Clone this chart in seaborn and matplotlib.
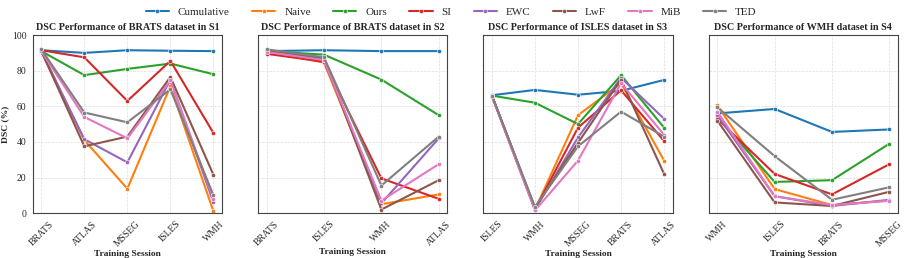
import numpy as np
import pandas as pd
import seaborn as sns
import matplotlib.pyplot as plt

methods = ["Cumulative", "Naive", "Ours", "SI", "EWC", "LwF", "MiB", "TED"]

# S1: BRATS dataset
s1_sessions = ["BRATS", "ATLAS", "MSSEG", "ISLES", "WMH"]
s1_vals = {
    "Cumulative": [91.5, 90.0, 91.5, 91.2, 91.0],
    "Naive": [91.0, 41.0, 13.7, 71.3, 1.0],
    "Ours": [91.0, 77.5, 81.0, 84.0, 78.0],
    "SI": [91.5, 87.5, 63.0, 85.5, 45.0],
    "EWC": [91.0, 41.5, 28.5, 75.0, 6.0],
    "LwF": [91.0, 37.5, 43.0, 76.5, 21.5],
    "MiB": [91.0, 54.0, 42.0, 74.5, 8.0],
    "TED": [92.0, 56.5, 51.0, 69.5, 10.0],
}

# S2: BRATS dataset
s2_sessions = ["BRATS", "ISLES", "WMH", "ATLAS"]
s2_vals = {
    "Cumulative": [91.0, 91.5, 91.0, 91.0],
    "Naive": [91.0, 84.5, 5.0, 10.5],
    "Ours": [91.0, 89.0, 75.0, 55.0],
    "SI": [89.5, 85.0, 19.5, 8.0],
    "EWC": [91.0, 86.0, 5.5, 42.0],
    "LwF": [91.0, 87.0, 2.0, 18.5],
    "MiB": [90.5, 86.0, 7.0, 27.5],
    "TED": [92.0, 87.5, 15.5, 43.0],
}

# S3: ISLES dataset
s3_sessions = ["ISLES", "WMH", "MSSEG", "BRATS", "ATLAS"]
s3_vals = {
    "Cumulative": [66.2, 69.2, 66.5, 68.7, 74.8],
    "Naive": [66.0, 2.0, 55.0, 73.0, 29.5],
    "Ours": [66.0, 62.0, 50.0, 77.5, 48.0],
    "SI": [66.0, 2.0, 48.0, 69.0, 40.5],
    "EWC": [66.0, 2.0, 42.5, 76.0, 53.0],
    "LwF": [66.0, 3.0, 39.5, 75.0, 22.0],
    "MiB": [65.5, 1.5, 29.5, 73.0, 44.0],
    "TED": [66.0, 3.5, 37.5, 57.0, 43.0],
}

# S4: WMH dataset
s4_sessions = ["WMH", "ISLES", "BRATS", "MSSEG"]
s4_vals = {
    "Cumulative": [56.0, 58.5, 45.6, 47.0],
    "Naive": [60.5, 13.5, 4.5, 7.0],
    "Ours": [54.0, 17.5, 18.5, 39.0],
    "SI": [53.0, 22.0, 10.5, 27.5],
    "EWC": [55.0, 9.5, 4.0, 7.5],
    "LwF": [52.0, 6.0, 4.0, 12.0],
    "MiB": [57.0, 9.5, 4.5, 7.0],
    "TED": [59.5, 32.0, 7.5, 14.5],
}

titles = [
    "DSC Performance of BRATS dataset in S1",
    "DSC Performance of BRATS dataset in S2",
    "DSC Performance of ISLES dataset in S3",
    "DSC Performance of WMH dataset in S4",
]
panels = [(s1_sessions, s1_vals), (s2_sessions, s2_vals),
          (s3_sessions, s3_vals), (s4_sessions, s4_vals)]

sns.set_style("whitegrid")
plt.rcParams["font.family"] = ["Liberation Serif", "DejaVu Serif"]

palette = dict(zip(methods, sns.color_palette("tab10", 8)))

fig, axes = plt.subplots(1, 4, figsize=(9.08, 2.58), dpi=100, sharey=True)
fig.subplots_adjust(left=0.036, right=0.989, top=0.864, bottom=0.174, wspace=0.19)

for ax, (sessions, vals), title in zip(axes, panels, titles):
    rows = []
    for m in methods:
        for i, s in enumerate(sessions):
            rows.append({"session": i, "method": m, "DSC": vals[m][i]})
    df = pd.DataFrame(rows)
    sns.lineplot(data=df, x="session", y="DSC", hue="method", hue_order=methods,
                 palette=palette, marker="o", markersize=3, markeredgecolor="white",
                 markeredgewidth=0.4, linewidth=1.5, ax=ax, legend=(ax is axes[0]))
    n = len(sessions) - 1
    ax.set_xticks(range(len(sessions)))
    ax.set_xticklabels(sessions, rotation=45)
    ax.set_ylim(0, 100)
    ax.set_xlim(-0.05 * n, n + 0.05 * n)
    ax.set_title(title, fontsize=7.3, fontweight="bold", pad=4)
    ax.set_xlabel("Training Session", fontsize=6.8, fontweight="bold", labelpad=1)
    ax.set_ylabel("")
    ax.tick_params(axis="both", labelsize=6.9, length=3, pad=1.5)
    ax.grid(True, linestyle="--", linewidth=0.5, color="#dddddd")
    for sp in ax.spines.values():
        sp.set_color("#444444")
        sp.set_linewidth(0.8)

axes[0].set_ylabel("DSC (%)", fontsize=6.8, fontweight="bold", labelpad=2)
axes[0].set_yticks([0, 20, 40, 60, 80, 100])

handles, labels = axes[0].get_legend_handles_labels()
axes[0].get_legend().remove()
fig.legend(handles, labels, loc="upper center", bbox_to_anchor=(0.497, 1.01), ncol=8,
           frameon=False, fontsize=8, handlelength=2.1, columnspacing=2.0, handletextpad=0.8)

fig.savefig("out.png", dpi=100)
